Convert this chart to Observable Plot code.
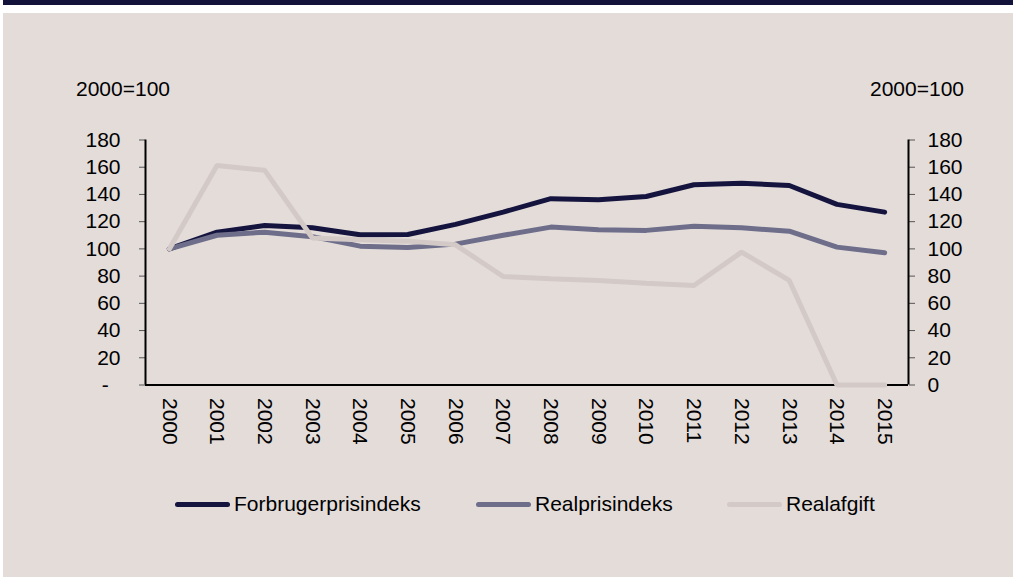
<!DOCTYPE html>
<html>
<head>
<meta charset="utf-8">
<script src="https://cdn.jsdelivr.net/npm/d3@7"></script>
<script src="https://cdn.jsdelivr.net/npm/@observablehq/plot@0.6"></script>
<style>
  body { margin: 0; font-family: "Liberation Sans", Arial, sans-serif; }
  #wrap { position: relative; width: 1013px; height: 577px; background: #ffffff; overflow: hidden; }
  #topbar { position: absolute; left: 3px; top: 0; width: 1010px; height: 5px; background: #12123a; }
  #panel { position: absolute; left: 3px; top: 13px; right: 0; bottom: 0; background: #e3dcd9; }
  #chart { position: absolute; left: 0; top: 0; }
  .unit { position: absolute; font-size: 21px; color: #000; line-height: 1; }
  #legend { position: absolute; left: 0; top: 492px; width: 1013px; height: 24px; }
  .item { position: absolute; top: 0; display: flex; align-items: center; font-size: 21px; color: #000; line-height: 24px; }
  .sw { width: 55px; height: 5px; border-radius: 3px; margin-right: 4px; }
</style>
</head>
<body>
<div id="wrap">
  <div id="topbar"></div>
  <div id="panel"></div>
  <div id="chart"></div>
  <div class="unit" style="left:76px; top:78px;">2000=100</div>
  <div class="unit" style="left:870px; top:78px;">2000=100</div>
  <div id="legend"></div>
</div>
<script>
const years = [2000, 2001, 2002, 2003, 2004, 2005, 2006, 2007, 2008, 2009, 2010, 2011, 2012, 2013, 2014, 2015];
const seriesNames = ["Forbrugerprisindeks", "Realprisindeks", "Realafgift"];
const forbrugerprisindeks = [100, 112.3, 117.2, 115.5, 110.4, 110.6, 118, 127, 136.9, 136.1, 138.5, 147.1, 148.3, 146.6, 132.7, 127];
const realprisindeks = [100, 110, 112.3, 109, 102, 101, 103.5, 110, 116, 114, 113.6, 116.7, 115.5, 113, 101.3, 97.2];
const realafgift = [100, 161.3, 157.7, 108, 106.7, 105.7, 103, 79.7, 78, 76.8, 74.8, 73.1, 97.6, 76.8, 0, 0];
const yTicks = [0, 20, 40, 60, 80, 100, 120, 140, 160, 180];
const colors = ["#14143f", "#6e6e8b", "#d3cac8"];

const seriesValues = [forbrugerprisindeks, realprisindeks, realafgift];
const toRows = (vals) => years.map((y, i) => ({year: y, value: vals[i]}));

const chart = Plot.plot({
  width: 1013,
  height: 460,
  marginLeft: 145,
  marginRight: 105,
  marginTop: 139.5,
  marginBottom: 75.5,
  style: { background: "transparent", fontFamily: "'Liberation Sans', Arial, sans-serif", fontSize: "21px", color: "#000", overflow: "visible" },
  x: { type: "linear", domain: [years[0] - 0.5, years[years.length - 1] + 0.5] },
  y: { domain: [0, 180] },
  marks: [
    Plot.axisY({ anchor: "left", ticks: yTicks, tickSize: 6, tickPadding: 19, stroke: "#555", fill: "#000",
      tickFormat: d => d === 0 ? "-\u00a0\u00a0" : String(d), label: null }),
    Plot.axisY({ anchor: "right", ticks: yTicks, tickSize: 6, tickPadding: 13, stroke: "#555", fill: "#000",
      tickFormat: d => String(d), label: null }),
    Plot.axisX({ ticks: years, tickSize: 0, tickPadding: 13, tickRotate: 90, fill: "#000",
      tickFormat: d => String(d), label: null }),
    Plot.ruleX([years[0] - 0.5, years[years.length - 1] + 0.5], { stroke: "#000", strokeWidth: 2 }),
    Plot.ruleY([0], { stroke: "#000", strokeWidth: 2 }),
    ...seriesValues.map((vals, i) => Plot.line(toRows(vals), {
      x: "year", y: "value", stroke: colors[i], strokeWidth: 5, strokeLinejoin: "miter", strokeLinecap: "round"
    }))
  ]
});
document.getElementById("chart").appendChild(chart);

const legendPos = [175, 476, 727];
const legend = document.getElementById("legend");
seriesNames.forEach((name, i) => {
  const it = document.createElement("div");
  it.className = "item";
  it.style.left = legendPos[i] + "px";
  const sw = document.createElement("div");
  sw.className = "sw";
  sw.style.background = colors[i];
  const tx = document.createElement("span");
  tx.textContent = name;
  it.appendChild(sw);
  it.appendChild(tx);
  legend.appendChild(it);
});
</script>
</body>
</html>
